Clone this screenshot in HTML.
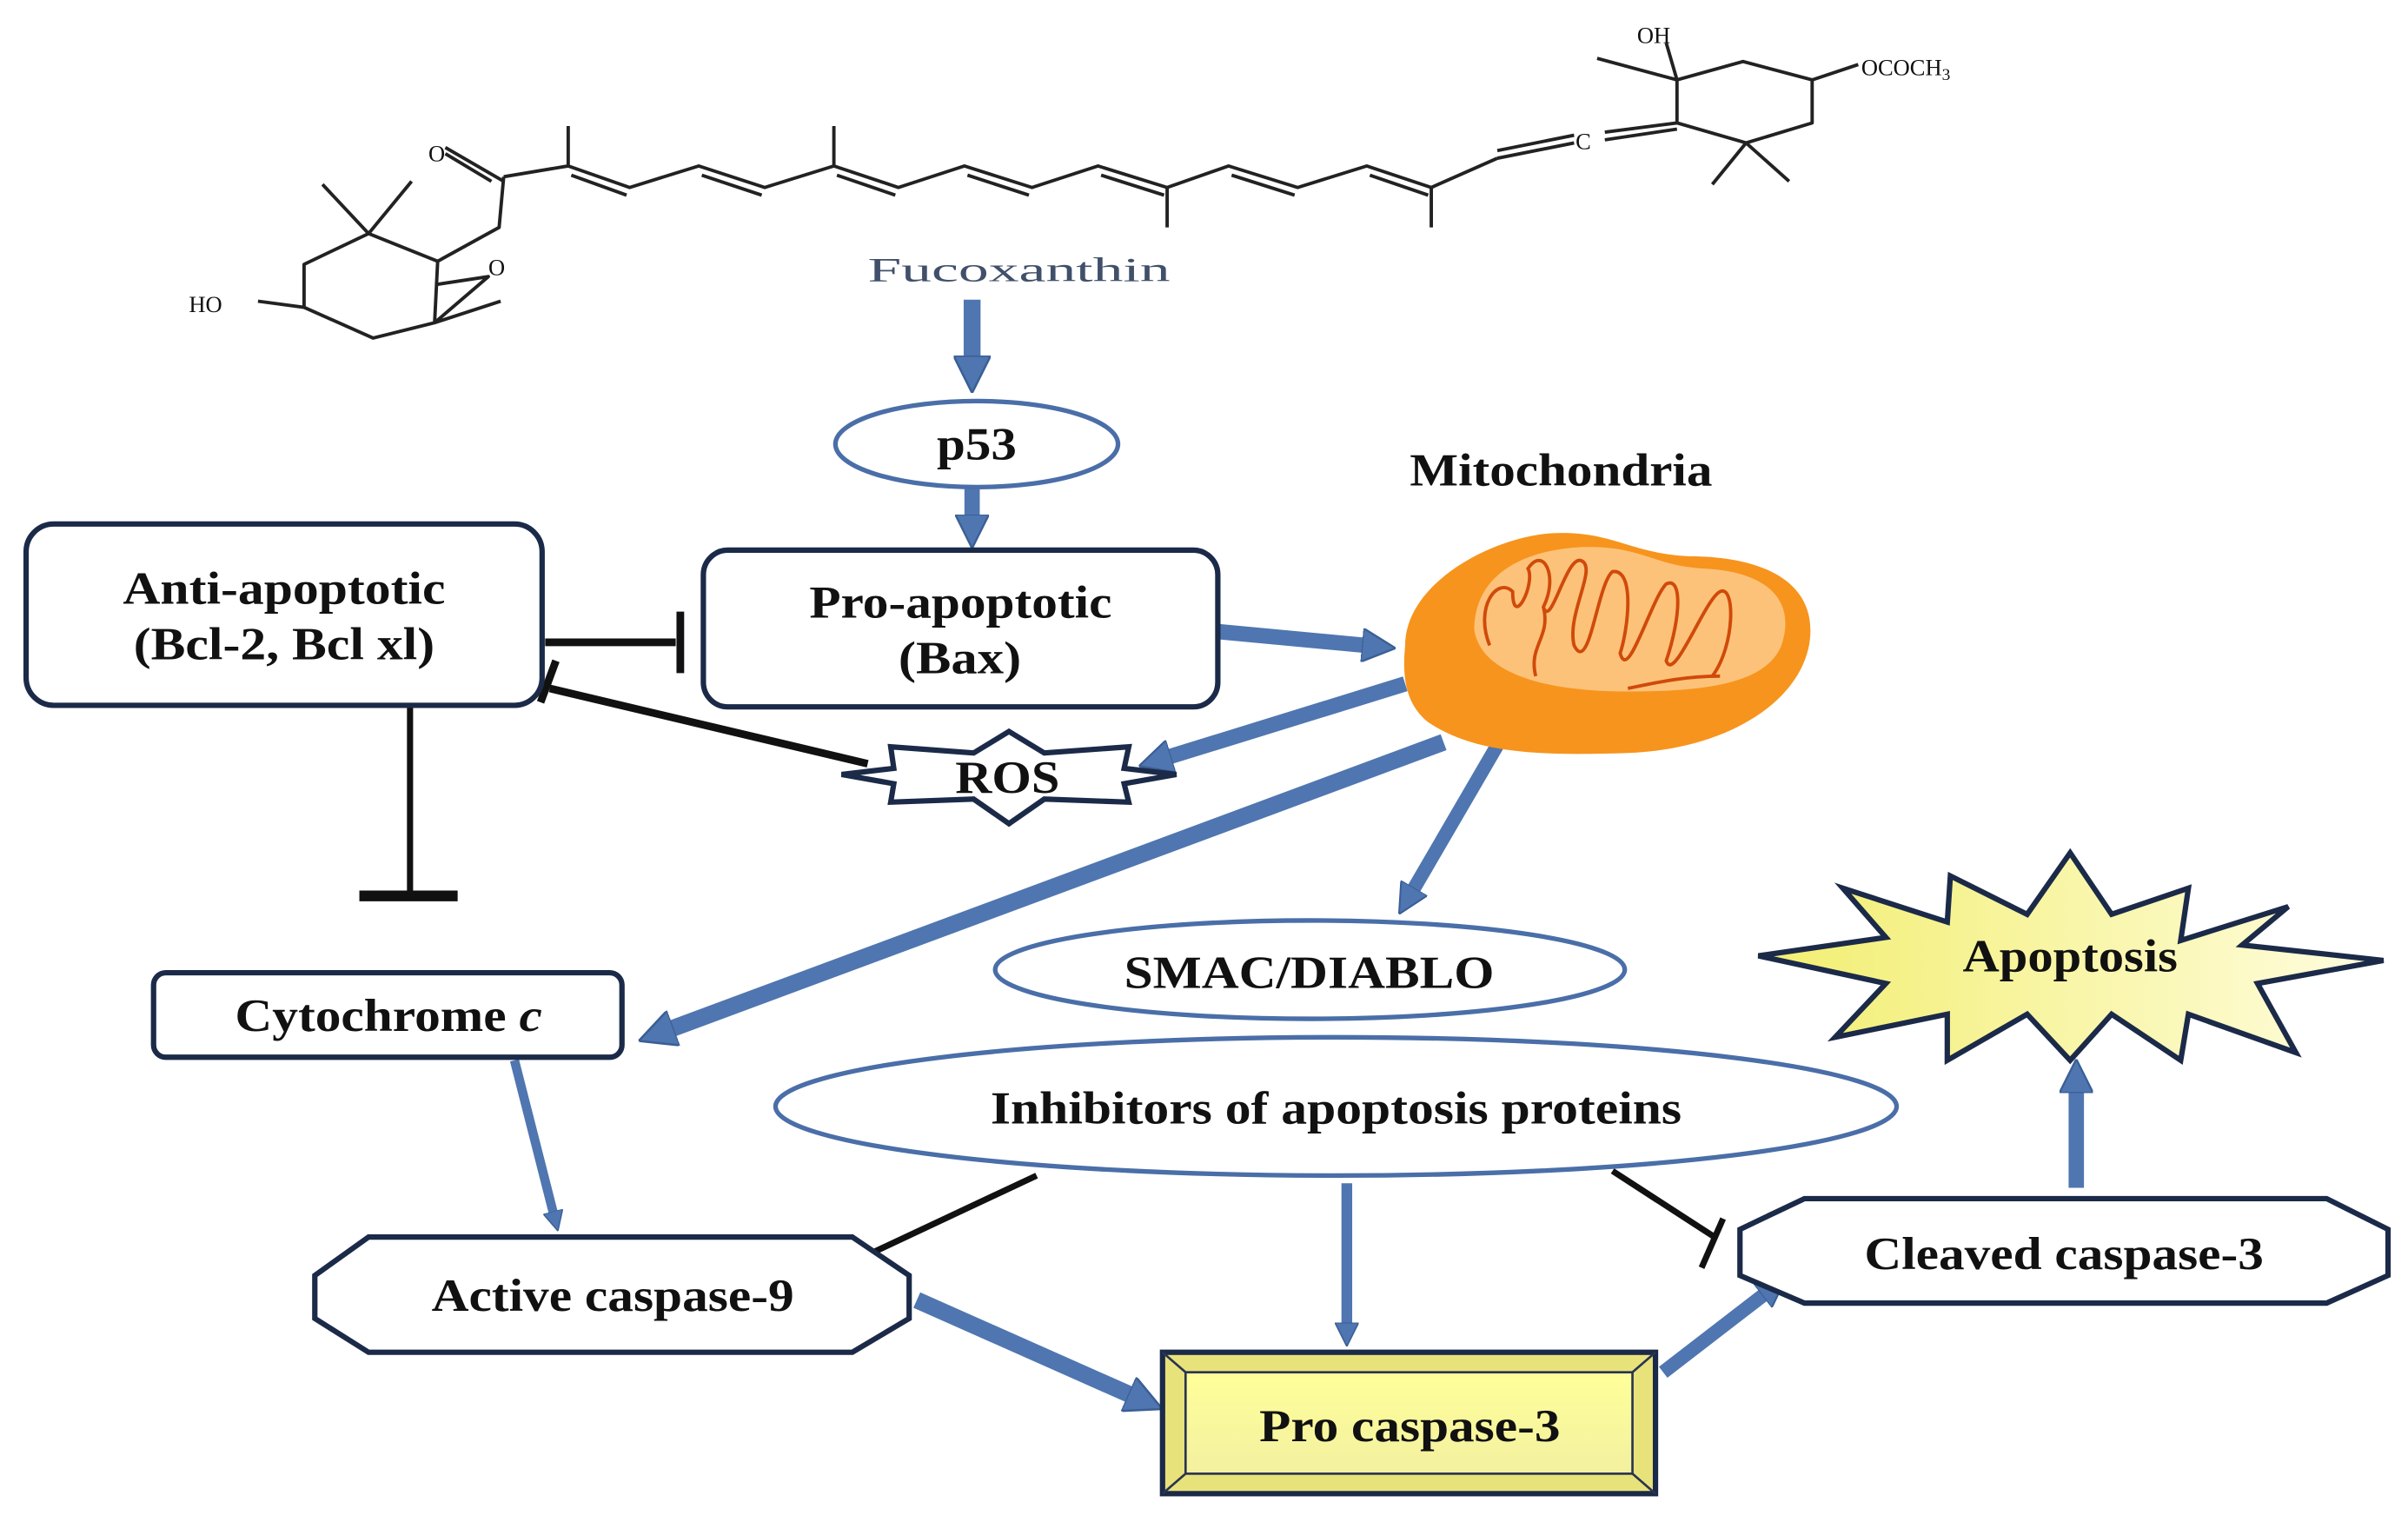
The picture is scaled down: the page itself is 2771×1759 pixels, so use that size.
<!DOCTYPE html>
<html><head><meta charset="utf-8"><style>
html,body{margin:0;padding:0;background:#fff;}
svg{display:block;}
text{font-family:"Liberation Serif",serif;font-weight:bold;fill:#111;}
</style></head><body>
<svg width="2771" height="1759" viewBox="0 0 1568 995" preserveAspectRatio="none" xmlns="http://www.w3.org/2000/svg">
<defs>
<marker id="ah" viewBox="0 0 10 10" refX="6" refY="5" markerWidth="2.2" markerHeight="2.2" orient="auto" markerUnits="strokeWidth">
<path d="M0,0 L10,5 L0,10 z" fill="#4f76b0" stroke="#3a5f95" stroke-width="0.6"/></marker>
<linearGradient id="yg" x1="0" x2="1"><stop offset="0" stop-color="#f2ee70"/><stop offset="1" stop-color="#fffde0"/></linearGradient>
<linearGradient id="pg" x1="0" y1="0" x2="0" y2="1"><stop offset="0" stop-color="#ffff99"/><stop offset="1" stop-color="#f3f0a0"/></linearGradient>
</defs>

<g stroke="#222" stroke-width="2.2" fill="none" stroke-linejoin="round">
<polygon points="240,152 285,170 283,210 243,220 198,200 198,172"/>
<path d="M240,152 L210,120 M240,152 L268,118"/>
<path d="M285,170 L325,148 L328,115 M320,118 L290,100 M328,118 L290,96"/>
<path d="M285,185 L318,180 L283,210 M283,210 L326,196"/>
<path d="M198,200 L168,196"/>
<path d="M328,115 L370,108 L410,122 L455,108 L498,122 L543,108 L585,122 L628,108 L672,122 L715,108 L760,122 L800,108 L845,122 L890,108 L932,122 L975,103"/>
<path d="M372,114 L408,127 M457,114 L496,127 M545,114 L583,127 M630,114 L670,127 M717,114 L758,127 M802,114 L843,127 M892,114 L930,127"/>
<path d="M370,108 L370,82 M543,108 L543,82 M760,122 L760,148 M932,122 L932,148"/>
<path d="M975,103 L1025,93 M975,98 L1025,88 M1045,86 L1092,80 M1045,91 L1092,84"/>
<polygon points="1092,80 1092,52 1135,40 1180,52 1180,80 1137,93"/>
<path d="M1092,52 L1085,28 M1092,52 L1040,38 M1180,52 L1210,42 M1137,93 L1115,120 M1137,93 L1165,118"/>
</g>
<g font-family="Liberation Sans,sans-serif" font-size="15" fill="#222">
<text x="279" y="105" style="font-weight:normal">O</text>
<text x="318" y="179" style="font-weight:normal">O</text>
<text x="123" y="203" style="font-weight:normal">HO</text>
<text x="1026" y="97" style="font-weight:normal">C</text>
<text x="1066" y="28" style="font-weight:normal">OH</text>
<text x="1212" y="49" style="font-weight:normal">OCOCH<tspan font-size="11" dy="3">3</tspan></text>
</g>
<text x="565" y="183" font-size="22" textLength="197" lengthAdjust="spacingAndGlyphs" style="font-weight:normal;fill:#40506a">Fucoxanthin</text>

<g stroke="#4f76b0" fill="none" marker-end="url(#ah)">
<line x1="633" y1="195" x2="633" y2="246" stroke-width="11"/>
<line x1="633" y1="318" x2="633" y2="348" stroke-width="10"/>
<line x1="793" y1="411" x2="900" y2="421" stroke-width="10"/>
<line x1="915" y1="445" x2="750" y2="496" stroke-width="10"/>
<line x1="940" y1="483" x2="425" y2="674" stroke-width="11"/>
<line x1="975" y1="485" x2="915" y2="588" stroke-width="9"/>
<line x1="335" y1="690" x2="362" y2="796" stroke-width="6"/>
<line x1="877" y1="770" x2="877" y2="870" stroke-width="7"/>
<line x1="597" y1="846" x2="748" y2="913" stroke-width="11"/>
<line x1="1083" y1="893" x2="1157" y2="836" stroke-width="9"/>
<line x1="1352" y1="773" x2="1352" y2="698" stroke-width="10"/>
</g>

<g stroke="#111" fill="none">
<line x1="355" y1="418" x2="440" y2="418" stroke-width="5"/>
<line x1="443" y1="398" x2="443" y2="438" stroke-width="5"/>
<line x1="565" y1="497" x2="358" y2="448" stroke-width="5"/>
<line x1="352" y1="457" x2="362" y2="430" stroke-width="5"/>
<line x1="267" y1="460" x2="267" y2="582" stroke-width="4"/>
<line x1="234" y1="583" x2="298" y2="583" stroke-width="7"/>
<line x1="675" y1="765" x2="545" y2="826" stroke-width="4"/>
<line x1="1050" y1="762" x2="1118" y2="806" stroke-width="4"/>
<line x1="1122" y1="793" x2="1108" y2="825" stroke-width="4"/>
</g>

<g stroke="#1b2a48" stroke-width="3.5" fill="#fff">
<rect x="17" y="341" width="336" height="118" rx="18"/>
<rect x="458" y="358" width="335" height="102" rx="16"/>
<rect x="100" y="633" width="305" height="55" rx="8"/>
<polygon points="240,805 555,805 592,830 592,858 555,880 240,880 205,858 205,830"/>
<polygon points="1175,780 1515,780 1555,800 1555,830 1515,848 1175,848 1133,830 1133,800"/>
<polygon points="657,476 680,490 735,486 732,500 766,504 732,510 735,522 680,520 657,536 634,520 580,522 582,510 548,504 582,500 580,486 634,490"/>
</g>
<g stroke="#4a6ea8" stroke-width="3" fill="#fff">
<ellipse cx="636" cy="289" rx="92" ry="28"/>
<ellipse cx="853" cy="631" rx="205" ry="32"/>
<ellipse cx="870" cy="720" rx="365" ry="45"/>
</g>
<polygon points="1348,555 1375,595 1425,578 1420,612 1490,590 1460,615 1552,625 1470,640 1495,685 1425,660 1420,690 1375,660 1348,690 1320,660 1268,690 1268,660 1195,675 1228,640 1145,622 1228,610 1200,578 1268,600 1270,570 1320,595" fill="url(#yg)" stroke="#1b2a48" stroke-width="3.5"/>
<rect x="757" y="880" width="321" height="92" fill="#e8e27a" stroke="#1b2a48" stroke-width="3.5"/>
<rect x="772" y="893" width="291" height="66" fill="url(#pg)" stroke="#2a3450" stroke-width="1.5"/>
<path d="M757,880 L772,893 M1078,880 L1063,893 M757,972 L772,959 M1078,972 L1063,959" stroke="#2a3450" stroke-width="1.5"/>

<path d="M915,420 C915,380 970,350 1010,347 C1050,345 1060,360 1100,362 C1150,362 1185,380 1178,420 C1170,460 1120,488 1060,490 C1000,492 960,490 930,470 C915,458 913,440 915,420 Z" fill="#f7941d"/>
<path d="M960,410 C960,375 990,358 1030,356 C1070,355 1075,368 1110,370 C1150,372 1170,390 1160,420 C1150,445 1110,450 1060,450 C1010,450 965,440 960,410 Z" fill="#fdc27a"/>
<path d="M970,420 C960,395 975,375 985,385 C985,410 1000,380 995,370 C1005,355 1015,375 1005,395 C1010,410 1020,360 1030,365 C1040,370 1020,400 1025,420 C1035,440 1040,380 1050,372 C1065,370 1060,410 1055,425 C1060,445 1075,390 1085,380 C1095,375 1095,400 1085,430 C1090,445 1110,390 1120,385 C1130,380 1130,420 1115,440 M1000,440 C995,420 1010,415 1005,395 M1060,448 C1075,445 1095,440 1120,440" fill="none" stroke="#d04a0a" stroke-width="2.2"/>

<g font-size="30">
<text x="610" y="299" textLength="52" lengthAdjust="spacingAndGlyphs">p53</text>
<text x="80" y="393" textLength="210" lengthAdjust="spacingAndGlyphs">Anti-apoptotic</text>
<text x="87" y="429" textLength="196" lengthAdjust="spacingAndGlyphs">(Bcl-2, Bcl xl)</text>
<text x="527" y="402" textLength="197" lengthAdjust="spacingAndGlyphs">Pro-apoptotic</text>
<text x="585" y="438" textLength="80" lengthAdjust="spacingAndGlyphs">(Bax)</text>
<text x="918" y="316" textLength="197" lengthAdjust="spacingAndGlyphs">Mitochondria</text>
<text x="622" y="516" textLength="68" lengthAdjust="spacingAndGlyphs">ROS</text>
<text x="732" y="643" textLength="241" lengthAdjust="spacingAndGlyphs">SMAC/DIABLO</text>
<text x="153" y="671" textLength="200" lengthAdjust="spacingAndGlyphs">Cytochrome <tspan font-style="italic">c</tspan></text>
<text x="645" y="731" textLength="450" lengthAdjust="spacingAndGlyphs">Inhibitors of apoptosis proteins</text>
<text x="1278" y="632" textLength="140" lengthAdjust="spacingAndGlyphs">Apoptosis</text>
<text x="281" y="853" textLength="236" lengthAdjust="spacingAndGlyphs">Active caspase-9</text>
<text x="1214" y="826" textLength="260" lengthAdjust="spacingAndGlyphs">Cleaved caspase-3</text>
<text x="820" y="938" textLength="196" lengthAdjust="spacingAndGlyphs">Pro caspase-3</text>
</g>
</svg>
</body></html>
